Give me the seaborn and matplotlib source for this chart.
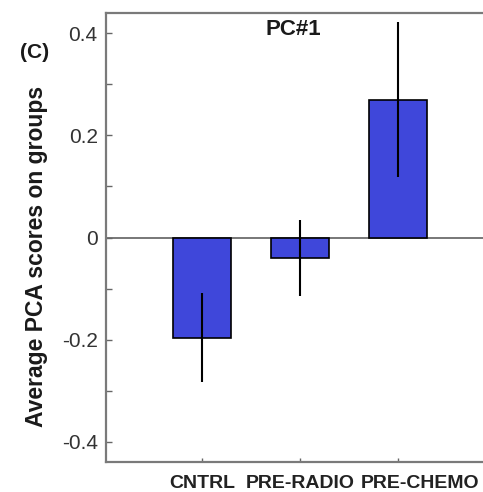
#-------------------------------------------
# Average PCA scores per group, PC#1
#-------------------------------------------

import numpy as np
import pandas as pd
import matplotlib
matplotlib.use("Agg")
import matplotlib.pyplot as plt
import matplotlib.transforms as mtrans
import seaborn as sns

#------------------ DATA -------------------------------------------

groups = ["CNTRL", "PRE-RADIO", "PRE-CHEMO"]
scores = [-0.196, -0.040, 0.270]
errors = [0.088, 0.075, 0.152]

yticks_major = [-0.4, -0.2, 0, 0.2, 0.4]
yticks_minor = [-0.3, -0.1, 0.1, 0.3]
ytick_labels = ["-0.4", "-0.2", "0", "0.2", "0.4"]

d = pd.DataFrame({"group": groups, "score": scores})

#------------------ DATA VISUALISATION -----------------------------

sns.set_style("ticks")
plt.rcParams["font.family"] = ["Liberation Sans", "DejaVu Sans"]

fig = plt.figure(figsize = (4.83, 4.92), dpi = 100)
ax = fig.add_axes([106/483, 30/492, 377/483, 449/492])

# Bars

sns.barplot(data = d, x = "group", y = "score", color = "#3F47DA", saturation = 1,
            width = 0.59, edgecolor = "black", linewidth = 1.2, errorbar = None, ax = ax)

# Zero line (behind bars)

ax.axhline(0, color = "#777777", lw = 1.4, zorder = 0.5)

# Error bars

ax.errorbar(x = groups, y = scores, yerr = errors, fmt = "none", ecolor = "black",
            elinewidth = 1.5, capsize = 0, zorder = 3)

# Axis limits and ticks

ax.set_xlim(-0.979, 2.868)
ax.set_ylim(-0.44, 0.44)
ax.set_yticks(yticks_major)
ax.set_yticklabels(ytick_labels)
ax.set_yticks(yticks_minor, minor = True)

ax.tick_params(axis = "y", which = "both", direction = "in", length = 4, width = 1,
               color = "#666666", labelsize = 15, labelcolor = "#333333", pad = 6)
ax.tick_params(axis = "x", direction = "in", length = 3, width = 1, color = "#666666",
               labelsize = 14, pad = 9)
for lab in ax.get_xticklabels():
    lab.set_fontweight("bold")
    lab.set_color("#222222")

# The last group label sits a bit to the right in the original
last = ax.get_xticklabels()[-1]
last.set_transform(last.get_transform() + mtrans.ScaledTranslation(22/100, 0, fig.dpi_scale_trans))

# Spines

for s in ["left", "bottom", "top"]:
    ax.spines[s].set_color("#7a7a7a")
    ax.spines[s].set_linewidth(1.6)
ax.spines["right"].set_visible(False)

# Labels

ax.set_xlabel("")
ax.set_ylabel("Average PCA scores on groups", fontsize = 16.5, fontweight = "bold",
              color = "#1a1a1a", va = "center")
ax.yaxis.set_label_coords(-0.185, 0.457)

ax.text(0.496, 0.963, "PC#1", transform = ax.transAxes, ha = "center", va = "center",
        fontsize = 16, fontweight = "bold", color = "#1a1a1a")
fig.text(35/483, 1 - 52/492, "(C)", ha = "center", va = "center",
         fontsize = 15, fontweight = "bold", color = "#1a1a1a")

# Save plot

plt.savefig("out.png", dpi = 100)
